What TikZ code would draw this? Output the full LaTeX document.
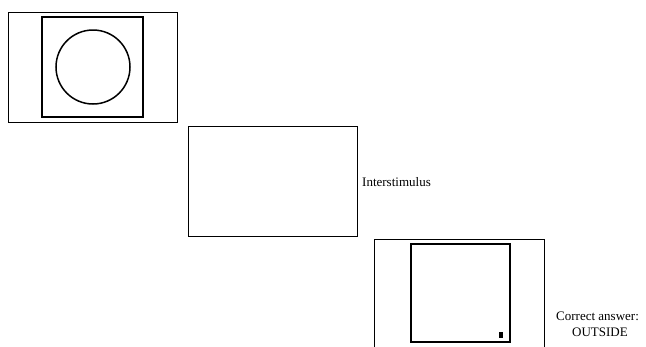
\documentclass[tikz,border=0pt]{standalone}
\usepackage{fontspec}
\setmainfont{Liberation Serif}
\begin{document}
\begin{tikzpicture}[x=1pt,y=-1pt,
  frame/.style={draw=black,line width=0.8pt},
  inner/.style={draw=black,line width=1.5pt},
  lbl/.style={font=\fontsize{13}{15}\selectfont,inner sep=0pt}]
\useasboundingbox (0,0) rectangle (646,346);
\clip (0,0) rectangle (646,346);
% screen 1
\draw[frame] (8,12) rectangle (177,122);
\draw[inner] (42,17) rectangle (143,117);
\draw[inner] (93,67) circle (37);
% screen 2
\draw[frame] (188,126) rectangle (357,236);
\node[lbl,anchor=west] (inter) at (362,182) {Interstimulus};
% screen 3
\draw[frame] (374,239) -- (374,350) (544,350) -- (544,239) -- (374,239);
\draw[inner] (411,244) rectangle (510,342);
\fill[black] (498.5,332) rectangle (503,337.5);
\node[lbl,anchor=west] (ans1) at (556,316) {Correct answer:};
\node[lbl] (ans2) at (600,332) {OUTSIDE};
\end{tikzpicture}
\end{document}
